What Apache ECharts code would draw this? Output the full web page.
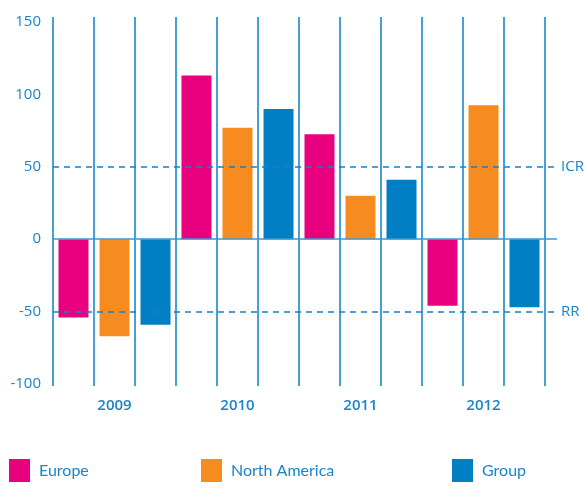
<!DOCTYPE html>
<html>
<head>
<meta charset="utf-8">
<script src="https://cdn.jsdelivr.net/npm/echarts@6/dist/echarts.min.js"></script>
<style>html,body{margin:0;padding:0;background:#fff}#c{width:584px;height:497px}</style>
</head>
<body>
<div id="c"></div>
<script>
const years = ['2009', '2010', '2011', '2012'];
const europe = [-54, 113, 72.5, -46];
const northAmerica = [-67, 77, 30, 92.5];
const group = [-59, 90, 41, -47];
const slots = ['', '', '', '', '', '', '', '', '', '', '', '']; // one column per bar
const yTicks = { min: -100, max: 150, interval: 50 };
const refLines = [{ value: 50, label: 'ICR' }, { value: -50, label: 'RR' }];

const blue = '#1a84c9';
const font = '"Open Sans", "Noto Sans", sans-serif';
const chart = echarts.init(document.getElementById('c'));

function legendAt(name, left) {
  return {
    data: [name], left, top: 459, padding: 0, icon: 'rect', itemWidth: 21, itemHeight: 23,
    selectedMode: false,
    textStyle: { color: blue, fontSize: 16, fontFamily: 'Lato, sans-serif', padding: [0, 0, 0, 4] },
  };
}

chart.setOption({
  animation: false,
  legend: [legendAt('Europe', 9), legendAt('North America', 201), legendAt('Group', 452)],
  grid: [
    { left: 53, right: 39, top: 22, bottom: 113 },
    { left: 53, right: 39, top: 17, bottom: 111 },
    { left: 53, right: 27, top: 22, bottom: 113 },
  ],
  xAxis: [
    { type: 'category', data: years, gridIndex: 0,
      axisLine: { show: false, onZero: false }, axisTick: { show: false },
      axisLabel: { color: blue, fontSize: 15, fontWeight: 600, fontFamily: font, margin: 14 } },
    { type: 'category', data: slots, gridIndex: 1,
      axisLine: { show: false }, axisTick: { show: false }, axisLabel: { show: false },
      splitLine: { show: true, lineStyle: { color: '#0a7fca', width: 1.5 } } },
    { type: 'value', gridIndex: 2, min: 0, max: 1, show: false },
  ],
  yAxis: [
    { type: 'value', gridIndex: 0, ...yTicks,
      axisLine: { show: false }, axisTick: { show: false }, splitLine: { show: false },
      axisLabel: { color: blue, fontSize: 15, fontFamily: font, margin: 12 } },
    { type: 'value', gridIndex: 1, min: 0, max: 1, show: false },
    { type: 'value', gridIndex: 2, ...yTicks, show: false },
  ],
  series: [
    { name: 'Europe', type: 'bar', data: europe, barWidth: 30, barGap: '36.7%',
      itemStyle: { color: '#e9007f' }, z: 3 },
    { name: 'North America', type: 'bar', data: northAmerica, barWidth: 30, barGap: '36.7%',
      itemStyle: { color: '#f68b1f' }, z: 3 },
    { name: 'Group', type: 'bar', data: group, barWidth: 30, barGap: '36.7%',
      itemStyle: { color: '#007fc5' }, z: 3 },
    { type: 'line', xAxisIndex: 2, yAxisIndex: 2, data: [], z: 1,
      markLine: {
        silent: true, symbol: 'none',
        lineStyle: { color: '#1580c8', type: [6, 5], width: 1.5 },
        label: { position: 'end', color: blue, fontSize: 15, fontFamily: font, distance: 4,
          formatter: p => p.name },
        data: refLines.map(r => ({ yAxis: r.value, name: r.label })),
      } },
    { type: 'line', xAxisIndex: 2, yAxisIndex: 2, data: [], z: 5,
      markLine: {
        silent: true, symbol: 'none',
        lineStyle: { color: 'rgba(60,150,210,0.75)', type: 'solid', width: 2 },
        label: { show: false },
        data: [{ yAxis: 0 }],
      } },
  ],
});
</script>
</body>
</html>
